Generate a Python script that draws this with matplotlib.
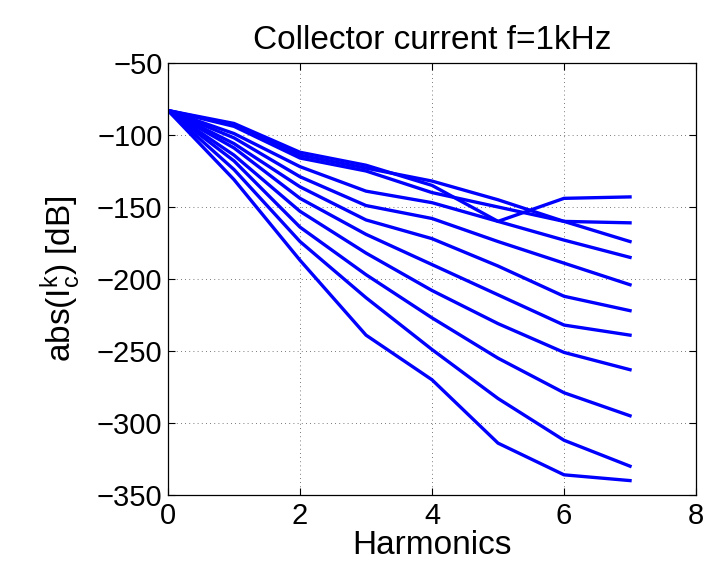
import numpy as np
from matplotlib import pyplot as plt

plt.rcParams['font.family'] = ['Liberation Sans', 'DejaVu Sans']
plt.rcParams['mathtext.fontset'] = 'custom'
plt.rcParams['mathtext.rm'] = 'Liberation Sans'
plt.rcParams['mathtext.it'] = 'Liberation Sans'

harmonics = [0, 1, 2, 3, 4, 5, 6, 7]

# one list per curve, bottom (steepest) to top
curve_01 = [-83, -131, -187, -239, -270, -314, -336, -340]
curve_02 = [-83, -124, -174, -213, -249, -283, -312, -330]
curve_03 = [-83, -118, -164, -197, -227, -255, -279, -295]
curve_04 = [-83, -114, -153, -182, -208, -231, -251, -263]
curve_05 = [-83, -109, -144, -169, -190, -211, -232, -239]
curve_06 = [-83, -106, -136, -159, -172, -191, -212, -222]
curve_07 = [-83, -102, -129, -149, -158, -174, -189, -204]
curve_08 = [-83, -99, -122, -139, -147, -160, -173, -185]
curve_09 = [-83, -94, -116, -125, -140, -150, -160, -161]
curve_10 = [-83, -93, -114, -123, -132, -145, -160, -174]
curve_11 = [-83, -92, -112, -121, -135, -160, -144, -143]

curves = [curve_01, curve_02, curve_03, curve_04, curve_05, curve_06,
          curve_07, curve_08, curve_09, curve_10, curve_11]

fig = plt.figure(figsize=(7.08, 5.7), dpi=100)
ax = fig.add_axes([0.2373, 0.1316, 0.7458, 0.7579])

for c in curves:
    ax.plot(harmonics, c, color=(0, 0, 1), linewidth=2.4)

ax.set_xlim(0, 8)
ax.set_ylim(-350, -50)
ax.set_xticks([0, 2, 4, 6, 8])
ax.set_yticks(np.arange(-350, -49, 50))
ax.grid(True, linestyle=(0, (1, 4)), color='k', linewidth=0.6, alpha=0.7)
ax.tick_params(direction='in', top=True, right=True, labelsize=21,
               length=5, width=0.8)
ax.tick_params(axis='x', pad=5)
ax.tick_params(axis='y', pad=4)
for s in ax.spines.values():
    s.set_linewidth(0.9)

ax.set_title('Collector current f=1kHz', fontsize=24, pad=10)
ax.set_xlabel('Harmonics', fontsize=24, labelpad=0)
ax.set_ylabel(r'abs(I$_\mathrm{c}^\mathrm{k}$) [dB]', fontsize=24, labelpad=10)

fig.savefig('out.png', dpi=100)
